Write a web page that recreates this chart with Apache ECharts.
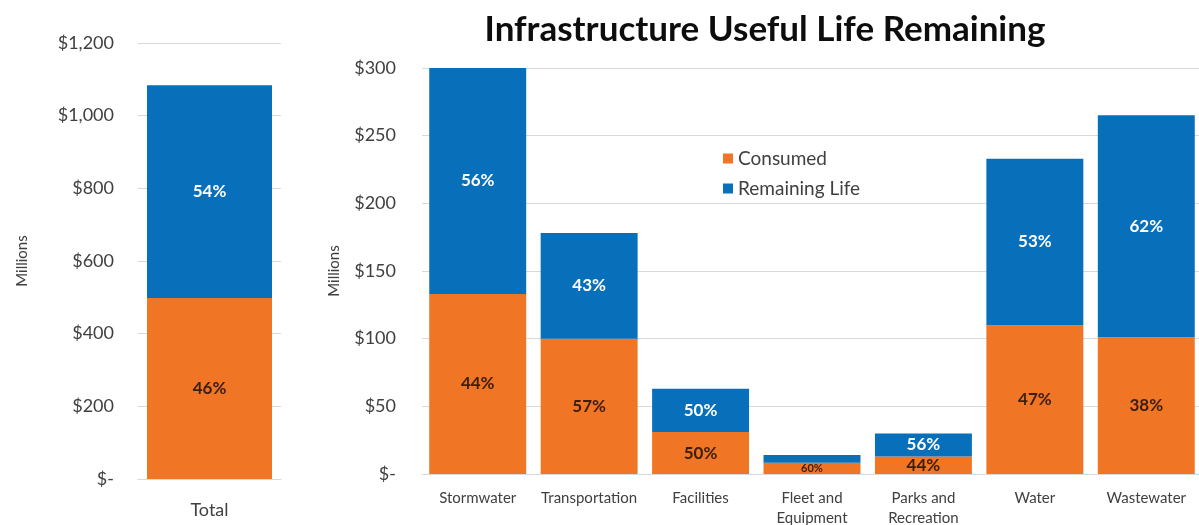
<!DOCTYPE html>
<html>
<head>
<meta charset="utf-8">
<script src="https://cdn.jsdelivr.net/npm/echarts@6/dist/echarts.min.js"></script>
<style>
  html, body { margin: 0; padding: 0; background: #fff; }
  #chart { width: 1199px; height: 525px; }
</style>
</head>
<body>
<div id="chart"></div>
<script>
// totals (left panel)
var totalCategories = ['Total'];
var totalConsumed = [498];
var totalRemaining = [586];
var totalConsumedLabels = ['46%'];
var totalRemainingLabels = ['54%'];

// by asset class (right panel)
var categories = ['Stormwater', 'Transportation', 'Facilities', 'Fleet and\nEquipment', 'Parks and\nRecreation', 'Water', 'Wastewater'];
var consumed = [133, 100, 31, 8.4, 13, 110, 101];
var remaining = [167, 78, 32, 5.6, 17, 123, 164];
var consumedLabels = ['44%', '57%', '50%', '60%', '44%', '47%', '38%'];
var remainingLabels = ['56%', '43%', '50%', '', '56%', '53%', '62%'];

var leftTicks = [0, 200, 400, 600, 800, 1000, 1200];
var rightTicks = [0, 50, 100, 150, 200, 250, 300];

var ORANGE = '#f07524';
var BLUE = '#086fba';
var FONT = 'Lato';
var TEXT = '#404040';

function money(v) {
	if (v === 0) return '$-';
	return '$' + v.toLocaleString('en-US');
}

function yAxisFor(gridIndex, ticks) {
	return {
		type: 'value',
		gridIndex: gridIndex,
		min: ticks[0],
		max: ticks[ticks.length - 1],
		interval: ticks[1] - ticks[0],
		name: 'Millions',
		nameLocation: 'middle',
		nameRotate: 90,
		nameGap: gridIndex === 0 ? 108 : 80,
		nameTextStyle: { fontFamily: FONT, fontSize: 15, color: TEXT },
		axisLine: { show: false },
		axisTick: { show: false },
		axisLabel: { fontFamily: FONT, fontSize: 18, color: TEXT, margin: gridIndex === 0 ? 24 : 26, formatter: money },
		splitLine: { lineStyle: { color: '#d9d9d9', width: 1 } }
	};
}

function xAxisFor(gridIndex, data, size) {
	return {
		type: 'category',
		gridIndex: gridIndex,
		data: data,
		axisLine: { lineStyle: { color: '#d9d9d9' } },
		axisTick: { show: false },
		axisLabel: { fontFamily: FONT, fontSize: size, color: TEXT, margin: gridIndex === 0 ? 21 : 14, lineHeight: 20, interval: 0 }
	};
}

function labelFrom(list, color, size) {
	return {
		show: true,
		position: 'inside',
		fontFamily: FONT,
		fontWeight: 'bold',
		fontSize: size,
		color: color,
		formatter: function (p) { return list[p.dataIndex]; }
	};
}

var myChart = echarts.init(document.getElementById('chart'));
var option = {
	animation: false,
	backgroundColor: '#fff',
	title: {
		text: 'Infrastructure Useful Life Remaining',
		left: 760,
		textAlign: 'center',
		top: 7,
		textStyle: { fontFamily: FONT, fontWeight: 'bold', fontSize: 35, color: '#0d0d0d' }
	},
	legend: {
		data: ['Consumed', 'Remaining Life'],
		orient: 'vertical',
		left: 718,
		top: 144,
		itemWidth: 10,
		itemHeight: 10,
		itemGap: 11,
		icon: 'rect',
		textStyle: { fontFamily: FONT, fontSize: 19, color: TEXT }
	},
	grid: [
		{ left: 138, right: 918, top: 43, bottom: 46, outerBoundsMode: 'none' },
		{ left: 422, right: -3, top: 68, bottom: 51, outerBoundsMode: 'none' }
	],
	xAxis: [
		xAxisFor(0, totalCategories, 18),
		xAxisFor(1, categories, 15)
	],
	yAxis: [
		yAxisFor(0, leftTicks),
		yAxisFor(1, rightTicks)
	],
	series: [
		{
			name: 'Consumed', type: 'bar', stack: 'total', xAxisIndex: 0, yAxisIndex: 0,
			barWidth: 125, data: totalConsumed, itemStyle: { color: ORANGE },
			label: labelFrom(totalConsumedLabels, '#3b1e0c', 17)
		},
		{
			name: 'Remaining Life', type: 'bar', stack: 'total', xAxisIndex: 0, yAxisIndex: 0,
			barWidth: 125, data: totalRemaining, itemStyle: { color: BLUE },
			label: labelFrom(totalRemainingLabels, '#ffffff', 17)
		},
		{
			name: 'Consumed', type: 'bar', stack: 'sector', xAxisIndex: 1, yAxisIndex: 1,
			barCategoryGap: '13%', data: consumed, itemStyle: { color: ORANGE },
			label: labelFrom(consumedLabels, '#3b1e0c', 17),
			labelLayout: function (p) {
				if (p.dataIndex === 3) return { fontSize: 11 };
				return {};
			}
		},
		{
			name: 'Remaining Life', type: 'bar', stack: 'sector', xAxisIndex: 1, yAxisIndex: 1,
			barCategoryGap: '13%', data: remaining, itemStyle: { color: BLUE },
			label: labelFrom(remainingLabels, '#ffffff', 17)
		}
	]
};
myChart.setOption(option);
</script>
</body>
</html>
